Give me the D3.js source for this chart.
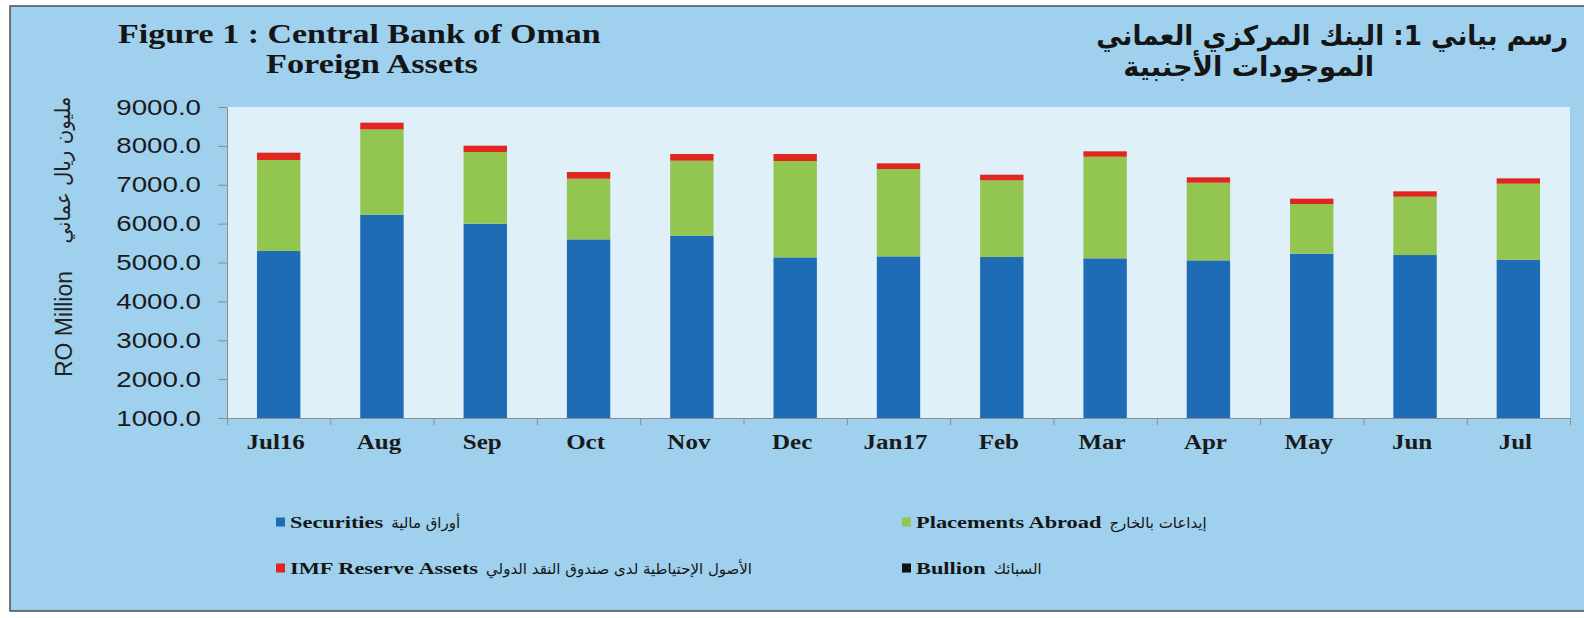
<!DOCTYPE html>
<html>
<head>
<meta charset="utf-8">
<script src="https://cdn.jsdelivr.net/npm/d3@7"></script>
<style>
body { margin: 0; background: #fff; }
svg { display: block; }
</style>
</head>
<body>
<svg id="chart" width="1584" height="618"></svg>
<script>
// values, RO million
const months = ["Jul16", "Aug", "Sep", "Oct", "Nov", "Dec", "Jan17", "Feb", "Mar", "Apr", "May", "Jun", "Jul"]
const securities = [5295, 6230, 5998, 5595, 5690, 5132, 5158, 5141, 5107, 5055, 5227, 5192, 5072]
const placements = [2341, 2195, 1844, 1561, 1929, 2478, 2246, 1972, 2614, 1998, 1277, 1501, 1955]
const imfReserve = [188, 171, 162, 171, 171, 180, 146, 145, 138, 137, 137, 137, 137]
const bullion = [1, 1, 1, 1, 1, 1, 1, 1, 1, 1, 1, 1, 1]
const yTicks = [1000, 2000, 3000, 4000, 5000, 6000, 7000, 8000, 9000]

const legendEn = ["Securities", "Placements Abroad", "IMF Reserve Assets", "Bullion"]
const legendAr = ["أوراق مالية", "إيداعات بالخارج", "الأصول الإحتياطية لدى صندوق النقد الدولي", "السبائك"]

const keys = ["securities", "placements", "imf", "bullion"]
const colors = { securities: "#1f6cb6", placements: "#93c651", imf: "#e1251f", bullion: "#111111" }

const serif = "'Liberation Serif', 'Times New Roman', serif"
const sans = "'Liberation Sans', Arial, 'DejaVu Sans', sans-serif"
const SX = 1.3 // the original is stretched sideways

let svg = d3.select("#chart")

// stretch a text to a given width, anchored at x,y
const fit = (t, x, y, width, rot) => {
    let w = t.node().getComputedTextLength()
    let s = width / w
    t.attr("transform", "translate(" + x + "," + y + ")" + (rot ? " rotate(" + rot + ")" : "") + " scale(" + s + ",1)")
    return t
}

// frame
svg.append("rect")
    .attr("x", 10).attr("y", 6)
    .attr("width", 1600).attr("height", 605)
    .attr("fill", "#9fd1ee")
    .attr("stroke", "#4d4d4d")
    .attr("stroke-width", 1.5)

let pLeft = 227, pRight = 1570, pTop = 107, pBottom = 418

let x = d3.scaleBand().domain(months).range([pLeft, pRight]).paddingInner(0.58).paddingOuter(0.29)
let y = d3.scaleLinear().domain([1000, 9000]).range([pBottom, pTop]).clamp(true)

svg.append("rect")
    .attr("x", pLeft).attr("y", pTop)
    .attr("width", pRight - pLeft).attr("height", pBottom - pTop)
    .attr("fill", "#dff0f9")

let rows = months.map((m, i) => {
    return { month: m, securities: securities[i], placements: placements[i], imf: imfReserve[i], bullion: bullion[i] }
})
let stacked = d3.stack().keys(keys)(rows)

svg.append("g")
    .selectAll("g")
    .data(stacked)
    .join("g")
    .attr("fill", (d) => { return colors[d.key] })
    .selectAll("rect")
    .data((d) => { return d })
    .join("rect")
    .attr("x", (d) => { return x(d.data.month) })
    .attr("width", x.bandwidth())
    .attr("y", (d) => { return y(d[1]) })
    .attr("height", (d) => { return y(d[0]) - y(d[1]) })

// y axis
let yAxis = svg.append("g")
    .attr("transform", "translate(" + pLeft + ",0)")
    .call(d3.axisLeft(y).tickValues(yTicks).tickFormat(d3.format(".1f")).tickSize(9).tickSizeOuter(0).tickPadding(17))
yAxis.select(".domain").attr("stroke", "#8c8c8c")
yAxis.selectAll(".tick line").attr("stroke", "#8c8c8c")
yAxis.selectAll(".tick text")
    .attr("font-family", sans)
    .attr("font-size", 22)
    .attr("fill", "#1a1a1a")
    .attr("x", -26 / 1.26)
    .attr("transform", "scale(1.26,1)")

// x axis: ticks between the categories
let edges = d3.scaleLinear().domain([0, months.length]).range([pLeft, pRight])
let xTicks = svg.append("g")
    .attr("transform", "translate(0," + pBottom + ")")
    .call(d3.axisBottom(edges).tickValues(d3.range(months.length + 1)).tickFormat("").tickSize(7).tickSizeOuter(0))
xTicks.select(".domain").attr("stroke", "#8c8c8c")
xTicks.selectAll(".tick line").attr("stroke", "#8c8c8c")

let xLabels = svg.append("g")
    .attr("transform", "translate(-3," + pBottom + ")")
    .call(d3.axisBottom(x).tickSize(0).tickPadding(17))
xLabels.select(".domain").remove()
xLabels.selectAll(".tick text")
    .attr("font-family", serif)
    .attr("font-weight", "bold")
    .attr("font-size", 20)
    .attr("fill", "#1a1a1a")
    .attr("transform", "scale(1.25,1)")

// y title
svg.append("text")
    .attr("transform", "translate(72,324) rotate(-90)")
    .attr("text-anchor", "middle")
    .attr("font-family", sans)
    .attr("font-size", 23)
    .attr("fill", "#222")
    .text("RO Million")

let yAr = svg.append("text")
    .attr("text-anchor", "middle")
    .attr("font-family", "'DejaVu Sans', sans-serif")
    .attr("font-size", 21)
    .attr("fill", "#222")
    .text("مليون ريال عماني")
fit(yAr, 70, 170, 147, -90)

// titles
let t1 = svg.append("text")
    .attr("font-family", serif).attr("font-weight", "bold").attr("font-size", 27).attr("fill", "#151515")
    .text("Figure 1 : Central Bank of Oman")
fit(t1, 118, 43, 483)
let t2 = svg.append("text")
    .attr("font-family", serif).attr("font-weight", "bold").attr("font-size", 27).attr("fill", "#151515")
    .text("Foreign Assets")
fit(t2, 266, 73, 212)

let a1 = svg.append("text")
    .attr("text-anchor", "end")
    .attr("font-family", "'DejaVu Sans', sans-serif").attr("font-weight", "bold").attr("font-size", 27).attr("fill", "#151515")
    .text("رسم بياني 1: البنك المركزي العماني")
fit(a1, 1568, 45, 472)
let a2 = svg.append("text")
    .attr("text-anchor", "end")
    .attr("font-family", "'DejaVu Sans', sans-serif").attr("font-weight", "bold").attr("font-size", 27).attr("fill", "#151515")
    .text("الموجودات الأجنبية")
fit(a2, 1374, 76, 251)

// legend, two rows of two
let legend = svg.append("g")
keys.forEach((k, i) => {
    let gx = i % 2 === 0 ? 276 : 902
    let gy = i < 2 ? 522 : 568
    let g = legend.append("g").attr("transform", "translate(" + gx + "," + gy + ")")
    g.append("rect")
        .attr("x", 0).attr("y", -4.5)
        .attr("width", 9).attr("height", 9)
        .attr("fill", colors[k])
    let en = g.append("text")
        .attr("transform", "translate(14,6) scale(1.28,1)")
        .attr("font-family", serif).attr("font-weight", "bold").attr("font-size", 17.5).attr("fill", "#151515")
        .text(legendEn[i])
    let w = en.node().getComputedTextLength() * 1.28
    g.append("text")
        .attr("x", 14 + w + 8).attr("y", 6)
        .attr("font-family", "'DejaVu Sans', sans-serif").attr("font-size", 15).attr("fill", "#151515")
        .text(legendAr[i])
})
</script>
</body>
</html>
